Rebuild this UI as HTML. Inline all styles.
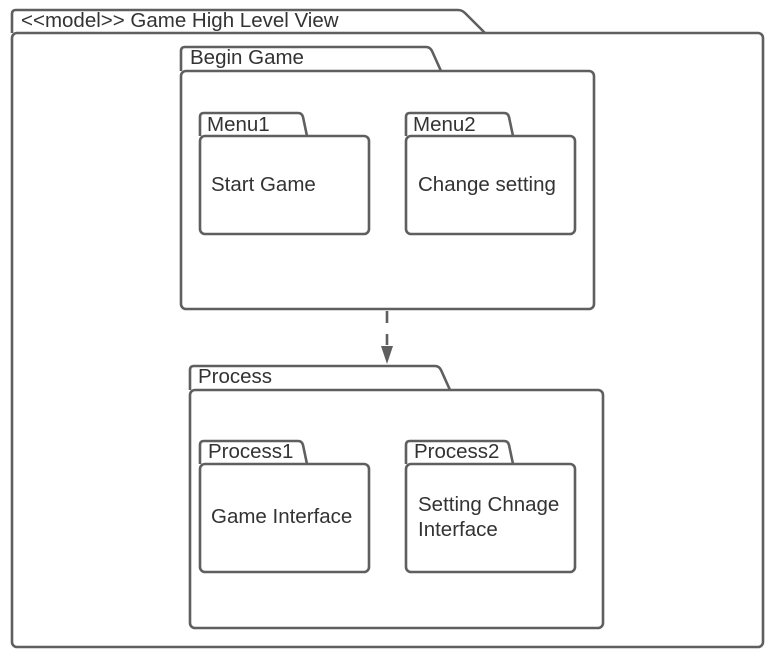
<!DOCTYPE html>
<html><head><meta charset="utf-8"><style>
html,body{margin:0;padding:0;background:#fff;}
svg{display:block;}
text{font-family:"Liberation Sans",sans-serif;fill:#333;}
</style></head><body>
<svg width="777" height="658" viewBox="0 0 777 658" xmlns="http://www.w3.org/2000/svg">
<g fill="none" stroke="#5f5f5f" stroke-width="2.6" stroke-linejoin="round">
  <path d="M12,33 L12,14 Q12,10 16,10 L458,10 Q462,10 465,13 L485,33"/>
  <rect x="12" y="33" width="751" height="614" rx="5"/>
  <path d="M181,71 L181,51 Q181,47 185,47 L426,47 Q430,47 432,51 L441,71"/>
  <rect x="181" y="71" width="413" height="238" rx="5"/>
  <path d="M200,136 L200,117 Q200,113 204,113 L298,113 Q302,113 303,117 L307,136"/>
  <rect x="200" y="136" width="169" height="98" rx="5"/>
  <path d="M406,136 L406,117 Q406,113 410,113 L504,113 Q508,113 509,117 L513,136"/>
  <rect x="406" y="136" width="169" height="98" rx="5"/>
  <path d="M190,390 L190,370 Q190,366 194,366 L435,366 Q439,366 441,370 L450,390"/>
  <rect x="190" y="390" width="413" height="238" rx="5"/>
  <path d="M200,464 L200,445 Q200,441 204,441 L298,441 Q302,441 303,445 L307,464"/>
  <rect x="200" y="464" width="169" height="108" rx="5"/>
  <path d="M406,464 L406,445 Q406,441 410,441 L504,441 Q508,441 509,445 L513,464"/>
  <rect x="406" y="464" width="169" height="108" rx="5"/>
  <line x1="387" y1="311" x2="387" y2="345" stroke-dasharray="12,11"/>
</g>
<polygon points="381,346 393,346 387,364" fill="#5f5f5f"/>
<g font-size="20.5">
  <text x="21" y="27">&lt;&lt;model&gt;&gt; Game High Level View</text>
  <text x="190" y="64">Begin Game</text>
  <text x="207" y="131">Menu1</text>
  <text x="413" y="131">Menu2</text>
  <text x="211" y="191">Start Game</text>
  <text x="418" y="191">Change setting</text>
  <text x="198" y="383">Process</text>
  <text x="208" y="458">Process1</text>
  <text x="414" y="458">Process2</text>
  <text x="211" y="523">Game Interface</text>
  <text x="418" y="511">Setting Chnage</text>
  <text x="418" y="536">Interface</text>
</g>
</svg>
</body></html>
